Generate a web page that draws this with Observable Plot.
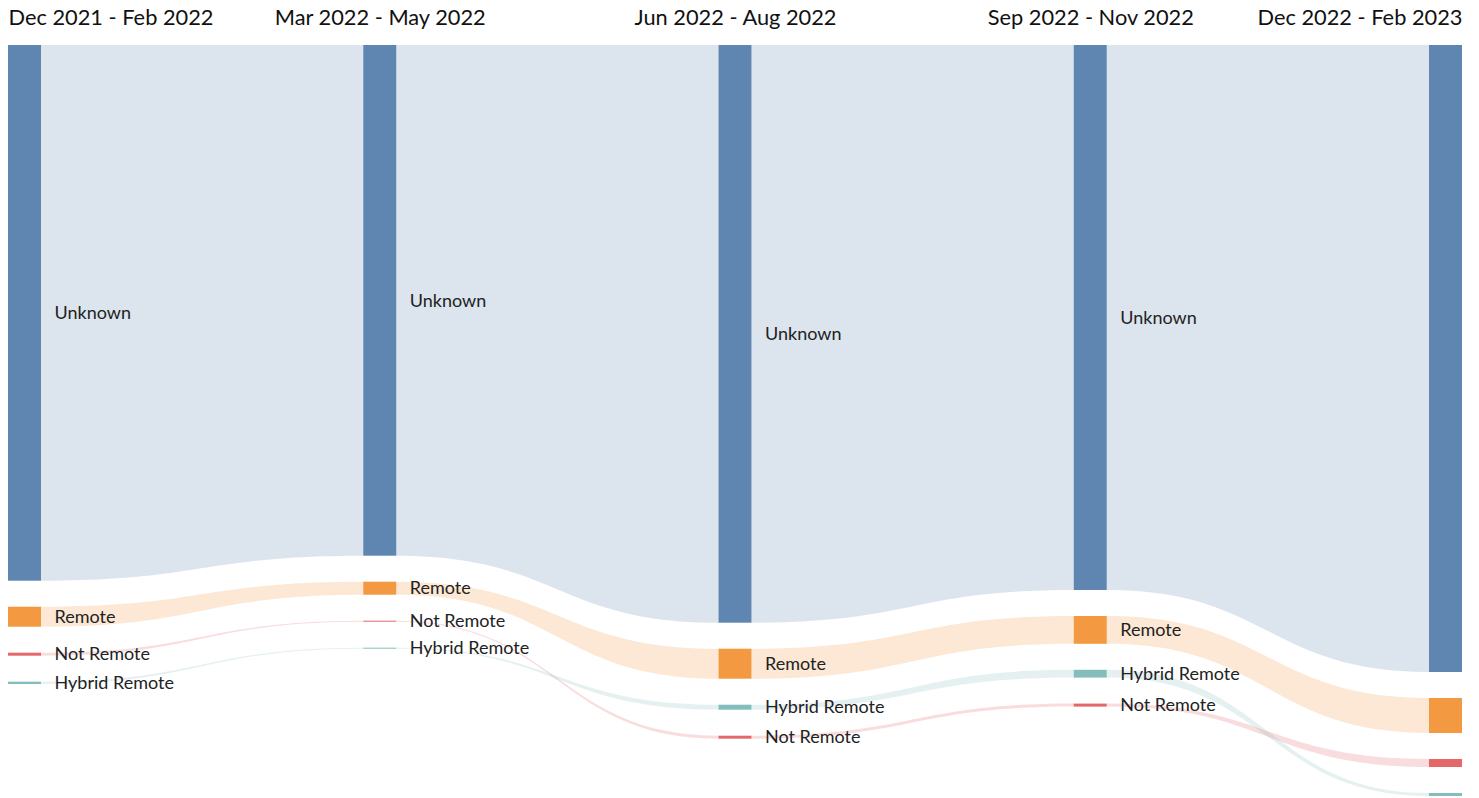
<!DOCTYPE html>
<html>
<head>
<meta charset="utf-8">
<script src="https://cdn.jsdelivr.net/npm/d3@7"></script>
<script src="https://cdn.jsdelivr.net/npm/@observablehq/plot@0.6"></script>
<style>
  body { margin: 0; background: #fff; font-family: Lato, "Noto Sans", sans-serif; }
  #chart svg { display: block; }
</style>
</head>
<body>
<div id="chart"></div>
<script>
// ---- Data ----
const periods = ["Dec 2021 - Feb 2022", "Mar 2022 - May 2022", "Jun 2022 - Aug 2022", "Sep 2022 - Nov 2022", "Dec 2022 - Feb 2023"];
const categories = ["Unknown", "Remote", "Not Remote", "Hybrid Remote"];
const unknown      = [5357, 5107, 5777, 5450, 6270];
const remote       = [200, 130, 300, 278, 350];
const notRemote    = [30, 10, 30, 30, 80];
const hybridRemote = [23, 10, 50, 78, 30];
const colors = ["#4e79a7", "#f28e2c", "#e15759", "#76b7b2"];

const series = {"Unknown": unknown, "Remote": remote, "Not Remote": notRemote, "Hybrid Remote": hybridRemote};

// ---- Layout ----
const width = 1479, height = 798;
const marginTop = 45, marginBottom = 2, marginLeft = 24.5, marginRight = 33.5;
const padPx = 26, nodeWidthPx = 33;
const nCols = periods.length;
const colStep = (width - marginLeft - marginRight) / (nCols - 1);
const hw = nodeWidthPx / 2 / colStep;

const totals = periods.map((_, i) => d3.sum(categories, c => series[c][i]));
const maxTotal = d3.max(totals);
const plotH = height - marginTop - marginBottom;
const ky = (plotH - (categories.length - 1) * padPx) / maxTotal;
const pad = padPx / ky;
const yMax = maxTotal + (categories.length - 1) * pad;

const nodes = [];
periods.forEach((p, i) => {
  const sorted = categories.slice().sort((a, b) => series[b][i] - series[a][i]);
  let y = 0;
  for (const c of sorted) {
    const v = series[c][i];
    nodes.push({col: i, period: p, category: c, value: v, y0: y, y1: y + v});
    y += v + pad;
  }
});

const linkPts = [];
for (const c of categories) {
  for (let i = 0; i < nCols - 1; i++) {
    const s = nodes.find(n => n.col === i && n.category === c);
    const t = nodes.find(n => n.col === i + 1 && n.category === c);
    const id = c + "-" + i;
    linkPts.push({id, category: c, x: i + hw, y0: s.y0, y1: s.y1});
    linkPts.push({id, category: c, x: i + 1 - hw, y0: t.y0, y1: t.y1});
  }
}

const headerStyle = {text: d => d, frameAnchor: "top", lineAnchor: "middle", dy: -27, fontSize: 21.8, fill: "#111"};

const chart = Plot.plot({
  width, height, marginTop, marginBottom, marginLeft, marginRight,
  x: {domain: [0, nCols - 1], axis: null},
  y: {domain: [0, yMax], reverse: true, axis: null},
  color: {domain: categories, range: colors},
  style: {fontFamily: "Lato, 'Noto Sans', sans-serif", background: "#fff"},
  marks: [
    Plot.area(linkPts, {x1: "x", y1: "y0", y2: "y1", z: "id", fill: "category", fillOpacity: 0.2, curve: "bump-x"}),
    Plot.rect(nodes, {x1: d => d.col - hw, x2: d => d.col + hw, y1: "y0", y2: "y1", fill: "category", fillOpacity: 0.9}),
    Plot.text(nodes.filter(d => d.col < nCols - 1), {
      x: d => d.col + hw, y: d => (d.y0 + d.y1) / 2, text: "category",
      textAnchor: "start", dx: 13, fontSize: 18, fill: "#222"
    }),
    Plot.text(periods, {...headerStyle, filter: (d, i) => i === 0, x: (d, i) => i, textAnchor: "start", dx: -nodeWidthPx / 2}),
    Plot.text(periods, {...headerStyle, filter: (d, i) => i > 0 && i < nCols - 1, x: (d, i) => i, textAnchor: "middle"}),
    Plot.text(periods, {...headerStyle, filter: (d, i) => i === nCols - 1, x: (d, i) => i, textAnchor: "end", dx: nodeWidthPx / 2})
  ]
});
document.getElementById("chart").appendChild(chart);
</script>
</body>
</html>
